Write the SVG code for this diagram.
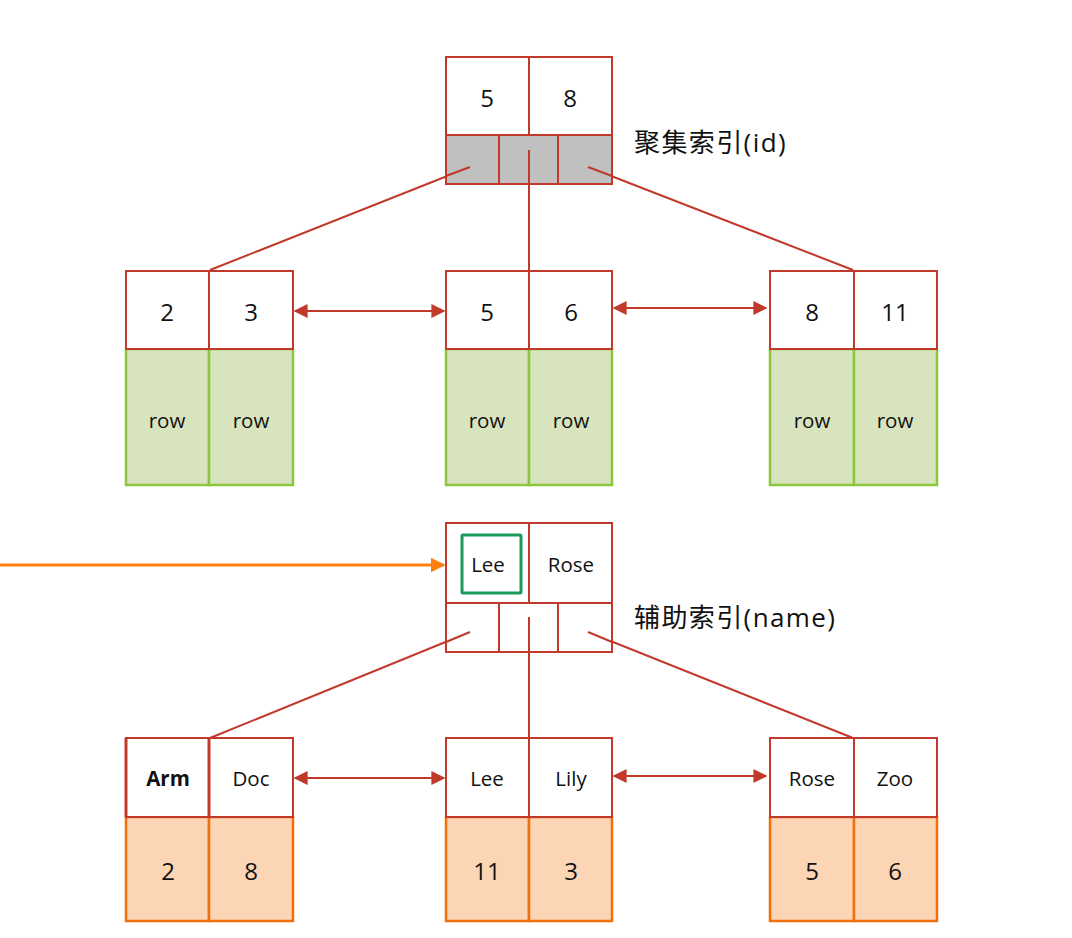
<svg xmlns="http://www.w3.org/2000/svg" width="1072" height="938" viewBox="0 0 1072 938">
<defs>
<style>
.k{fill:#fff;stroke:#c0392b;stroke-width:2}
.g{fill:#c0c0c0;stroke:#c0392b;stroke-width:2}
.w{fill:#fff;stroke:#c0392b;stroke-width:2}
.r{fill:#d7e4bd;stroke:#8cc63f;stroke-width:2.5}
.o{fill:#fcd5b5;stroke:#f36f0c;stroke-width:2.5}
.e{stroke:#c0392b;stroke-width:2;fill:none}
.t{font-family:"Open Sans","Noto Sans",sans-serif;fill:#111;text-anchor:middle;dominant-baseline:central}
.n{font-size:24px}
.s{font-size:20.5px}
.lb{font-family:"Open Sans","Noto Sans CJK SC",sans-serif;font-size:26px;fill:#111;dominant-baseline:central;letter-spacing:1.4px}
</style>
<marker id="ar" viewBox="0 0 10 10" refX="9" refY="5" markerWidth="7" markerHeight="7" orient="auto-start-reverse" markerUnits="strokeWidth"><path d="M0,0L10,5L0,10z" fill="#c0392b"/></marker>
<marker id="ao" viewBox="0 0 10 10" refX="9" refY="5" markerWidth="5" markerHeight="5" orient="auto" markerUnits="strokeWidth"><path d="M0,0L10,5L0,10z" fill="#ff7f0e"/></marker>
</defs>
<g id="connectors">
<line class="e" x1="470" y1="167" x2="210" y2="270"/>
<line class="e" x1="529" y1="150" x2="529" y2="270"/>
<line class="e" x1="588" y1="167" x2="853" y2="270"/>
<line class="e" x1="295" y1="311" x2="444" y2="311" marker-start="url(#ar)" marker-end="url(#ar)"/>
<line class="e" x1="614" y1="308" x2="766" y2="308" marker-start="url(#ar)" marker-end="url(#ar)"/>
<line class="e" x1="470" y1="632" x2="210" y2="738"/>
<line class="e" x1="529" y1="617" x2="529" y2="738"/>
<line class="e" x1="588" y1="632" x2="853" y2="738"/>
<line class="e" x1="295" y1="778" x2="444" y2="778" marker-start="url(#ar)" marker-end="url(#ar)"/>
<line class="e" x1="614" y1="776" x2="766" y2="776" marker-start="url(#ar)" marker-end="url(#ar)"/>
<line x1="0" y1="565" x2="444" y2="565" stroke="#ff7f0e" stroke-width="3" marker-end="url(#ao)"/>
</g>
<g id="root1">
<rect class="k" x="446" y="57" width="83" height="78"/>
<rect class="k" x="529" y="57" width="83" height="78"/>
<rect class="g" x="446" y="135" width="53" height="49"/>
<rect class="g" x="499" y="135" width="59" height="49"/>
<rect class="g" x="558" y="135" width="54" height="49"/>
<line class="e" x1="470" y1="167" x2="446" y2="176"/>
<line class="e" x1="529" y1="150" x2="529" y2="184"/>
<line class="e" x1="588" y1="167" x2="612" y2="176"/>
<text class="t n" x="487" y="97">5</text>
<text class="t n" x="570" y="97">8</text>
</g>
<g id="label1"><text class="lb" x="634" y="142">聚集索引(id)</text></g>
<g id="leaf1">
<rect class="r" x="126" y="349" width="83" height="136"/>
<rect class="r" x="209" y="349" width="84" height="136"/>
<rect class="k" x="126" y="271" width="83" height="78"/>
<rect class="k" x="209" y="271" width="84" height="78"/>
<text class="t n" x="167" y="311">2</text>
<text class="t n" x="251" y="311">3</text>
<text class="t s" x="167" y="420">row</text>
<text class="t s" x="251" y="420">row</text>
</g>
<g id="leaf2">
<rect class="r" x="446" y="349" width="83" height="136"/>
<rect class="r" x="529" y="349" width="83" height="136"/>
<rect class="k" x="446" y="271" width="83" height="78"/>
<rect class="k" x="529" y="271" width="83" height="78"/>
<text class="t n" x="487" y="311">5</text>
<text class="t n" x="571" y="311">6</text>
<text class="t s" x="487" y="420">row</text>
<text class="t s" x="571" y="420">row</text>
</g>
<g id="leaf3">
<rect class="r" x="770" y="349" width="84" height="136"/>
<rect class="r" x="854" y="349" width="83" height="136"/>
<rect class="k" x="770" y="271" width="84" height="78"/>
<rect class="k" x="854" y="271" width="83" height="78"/>
<text class="t n" x="812" y="311">8</text>
<text class="t n" x="895" y="311">11</text>
<text class="t s" x="812" y="420">row</text>
<text class="t s" x="895" y="420">row</text>
</g>
<g id="root2">
<rect class="k" x="446" y="523" width="83" height="80"/>
<rect class="k" x="529" y="523" width="83" height="80"/>
<rect class="w" x="446" y="603" width="53" height="49"/>
<rect class="w" x="499" y="603" width="59" height="49"/>
<rect class="w" x="558" y="603" width="54" height="49"/>
<line class="e" x1="470" y1="632" x2="446" y2="642"/>
<line class="e" x1="529" y1="617" x2="529" y2="652"/>
<line class="e" x1="588" y1="632" x2="612" y2="642"/>
<rect x="462" y="535" width="59" height="58" fill="none" stroke="#1a9a5a" stroke-width="3" rx="1"/>
<text class="t s" x="488" y="564">Lee</text>
<text class="t s" x="571" y="564">Rose</text>
</g>
<g id="label2"><text class="lb" x="634" y="617">辅助索引(name)</text></g>
<g id="leaf4">
<rect class="o" x="126" y="817" width="83" height="104"/>
<rect class="o" x="209" y="817" width="84" height="104"/>
<rect class="k" x="126" y="738" width="83" height="79"/>
<rect class="k" x="209" y="738" width="84" height="79"/>
<line x1="126" y1="738" x2="126" y2="817" stroke="#c0392b" stroke-width="3"/>
<line x1="209" y1="738" x2="209" y2="817" stroke="#c0392b" stroke-width="3"/>
<text class="t s" x="168" y="778" font-weight="bold">Arm</text>
<text class="t s" x="251" y="778">Doc</text>
<text class="t n" x="168" y="870">2</text>
<text class="t n" x="251" y="870">8</text>
</g>
<g id="leaf5">
<rect class="o" x="446" y="817" width="83" height="104"/>
<rect class="o" x="529" y="817" width="83" height="104"/>
<rect class="k" x="446" y="738" width="83" height="79"/>
<rect class="k" x="529" y="738" width="83" height="79"/>
<text class="t s" x="487" y="778">Lee</text>
<text class="t s" x="571" y="778">Lily</text>
<text class="t n" x="487" y="870">11</text>
<text class="t n" x="571" y="870">3</text>
</g>
<g id="leaf6">
<rect class="o" x="770" y="817" width="84" height="104"/>
<rect class="o" x="854" y="817" width="83" height="104"/>
<rect class="k" x="770" y="738" width="84" height="79"/>
<rect class="k" x="854" y="738" width="83" height="79"/>
<text class="t s" x="812" y="778">Rose</text>
<text class="t s" x="895" y="778">Zoo</text>
<text class="t n" x="812" y="870">5</text>
<text class="t n" x="895" y="870">6</text>
</g>
</svg>
